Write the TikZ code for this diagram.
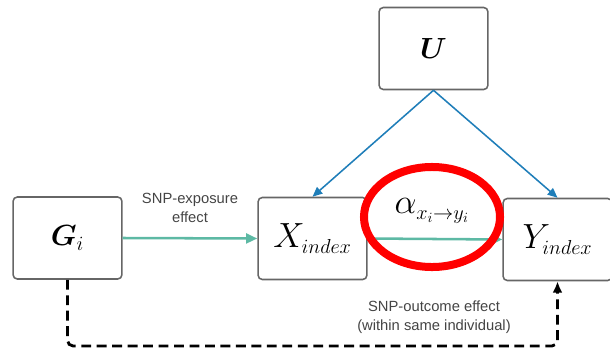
\documentclass[tikz,border=0pt]{standalone}
\usepackage{amsmath}
\usepackage{fontspec}
\setmainfont{Liberation Sans}
\DeclareMathSizes{23}{23}{13.5}{10}
\DeclareMathSizes{21}{21}{14}{10}
\usetikzlibrary{arrows.meta}
\definecolor{boxgray}{HTML}{666666}
\definecolor{txtgray}{HTML}{444444}
\definecolor{ublue}{HTML}{1F7EB9}
\definecolor{snpgreen}{HTML}{5DB9A4}
\begin{document}
\begin{tikzpicture}[x=0.025cm, y=-0.025cm,
	varbox/.style={draw=boxgray, line width=1.1pt, rounded corners=3pt, fill=white,
		minimum width=2.72cm, minimum height=2.05cm, inner sep=0pt},
	bigmath/.style={font=\fontsize{23}{28}\selectfont},
	midmath/.style={font=\fontsize{21}{25}\selectfont},
	lbl/.style={text=txtgray, align=center, font=\fontsize{10.5}{13.5}\selectfont},
	uarrow/.style={ublue, line width=1.1pt, -{Triangle[length=7pt, width=6pt]}},
	garrow/.style={snpgreen, line width=1.8pt, -{Triangle[length=8pt, width=7pt]}}]
	\useasboundingbox (0,0) rectangle (610,355);
	
	% Kaesten
	\node[varbox, midmath] (G) at (67.5,238) {$\boldsymbol{G}_i$};
	\node[varbox, bigmath] (X) at (312.5,238.5) {$X_{index}$};
	\node[varbox, bigmath] (Y) at (557.5,239.5) {$Y_{index}$};
	\node[varbox, midmath] (U) at (433.5,48.5) {$\boldsymbol{U}$};
	
	% Konfundierung
	\draw[uarrow] (U.south) -- (X.north);
	\draw[uarrow] (U.south) -- (Y.north);
	
	% SNP-Effekte
	\draw[garrow] (G.east) -- (X.west);
	\node[lbl] (expo) at (190,208) {SNP-exposure\\effect};
	\draw[garrow] (X.east) -- (Y.west);
	
	\draw[line width=2pt, dash pattern=on 7pt off 4pt, rounded corners=4pt, -{Latex[length=8pt, width=7pt]}]
		(G.south) -- (67.5,346) -- (557.5,346) -- (Y.south);
	\node[lbl] (outc) at (434,317) {SNP-outcome effect\\(within same individual)};
	
	% Kausaler Effekt
	\node[bigmath] (alpha) at (432,211) {$\alpha_{x_i\to y_i}$};
	\draw[red, line width=0.2cm] (alpha.center) ++(0,6) ellipse (1.7cm and 1.25cm);
\end{tikzpicture}
\end{document}
